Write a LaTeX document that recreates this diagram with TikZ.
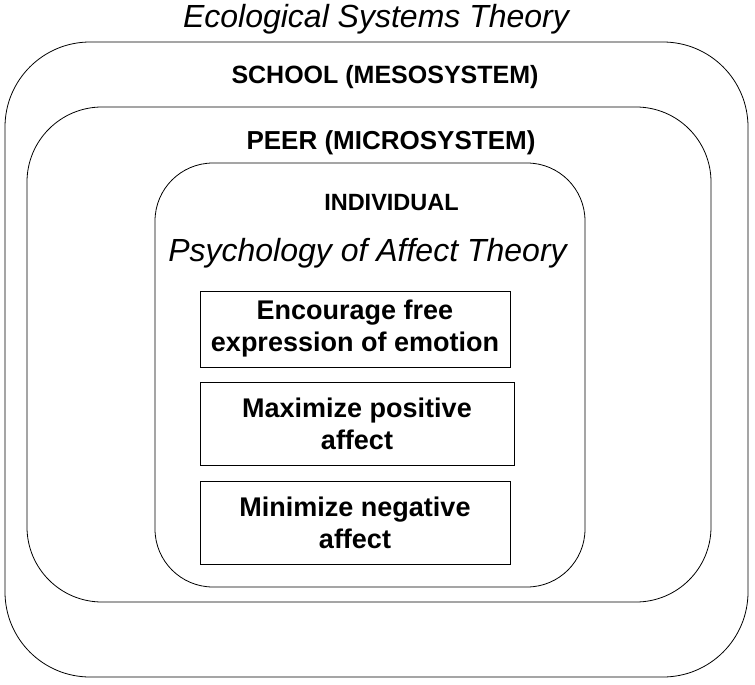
\documentclass[tikz,border=0pt]{standalone}
\usepackage{fontspec}
\setmainfont{Liberation Sans}
\usepackage{tikz}
\usetikzlibrary{positioning}
\tikzset{
  layer/.style={draw, line width=0.8pt, rounded corners=#1pt, inner sep=0pt},
  goal box/.style={draw, line width=0.8pt, align=center, inner sep=0pt,
    font=\fontsize{27}{32}\selectfont\bfseries},
  layer title/.style={anchor=base, inner sep=0pt, font=\fontsize{#1}{#1}\selectfont\bfseries},
  theory title/.style={anchor=base, inner sep=0pt, font=\fontsize{32}{32}\selectfont\itshape}
}

\begin{document}
\begin{tikzpicture}[x=1pt, y=-1pt]
  \useasboundingbox (0,0) rectangle (755,685);

  % nested systems
  \node[layer=85, minimum width=743pt, minimum height=635pt] (S) at (376.5,359.5) {};
  \node[layer=75, minimum width=684pt, minimum height=495pt] (P) at (369,354.5) {};
  \node[layer=58, minimum width=430pt, minimum height=424pt] (I) at (370,375) {};

  % titles
  \node[theory title] (T) at (376,28) {Ecological Systems Theory};
  \node[layer title=25] (ST) at (385,83) {SCHOOL (MESOSYSTEM)};
  \node[layer title=26] (PT) at (391,149) {PEER (MICROSYSTEM)};
  \node[layer title=23.5] (IT) at (391.5,210) {INDIVIDUAL};
  \node[theory title] (AT) at (367.5,261) {Psychology of Affect Theory};

  % goals
  \node[goal box, minimum width=310pt, minimum height=76pt] (B1) at (355,329)
    {Encourage free\\expression of emotion};
  \node[goal box, minimum width=314pt, minimum height=83pt,
    below=15pt of B1.south west, anchor=north west] (B2)
    {Maximize positive\\affect};
  \node[goal box, minimum width=310pt, minimum height=83pt,
    below=15pt of B2.south west, anchor=north west] (B3)
    {Minimize negative\\affect};
\end{tikzpicture}
\end{document}
